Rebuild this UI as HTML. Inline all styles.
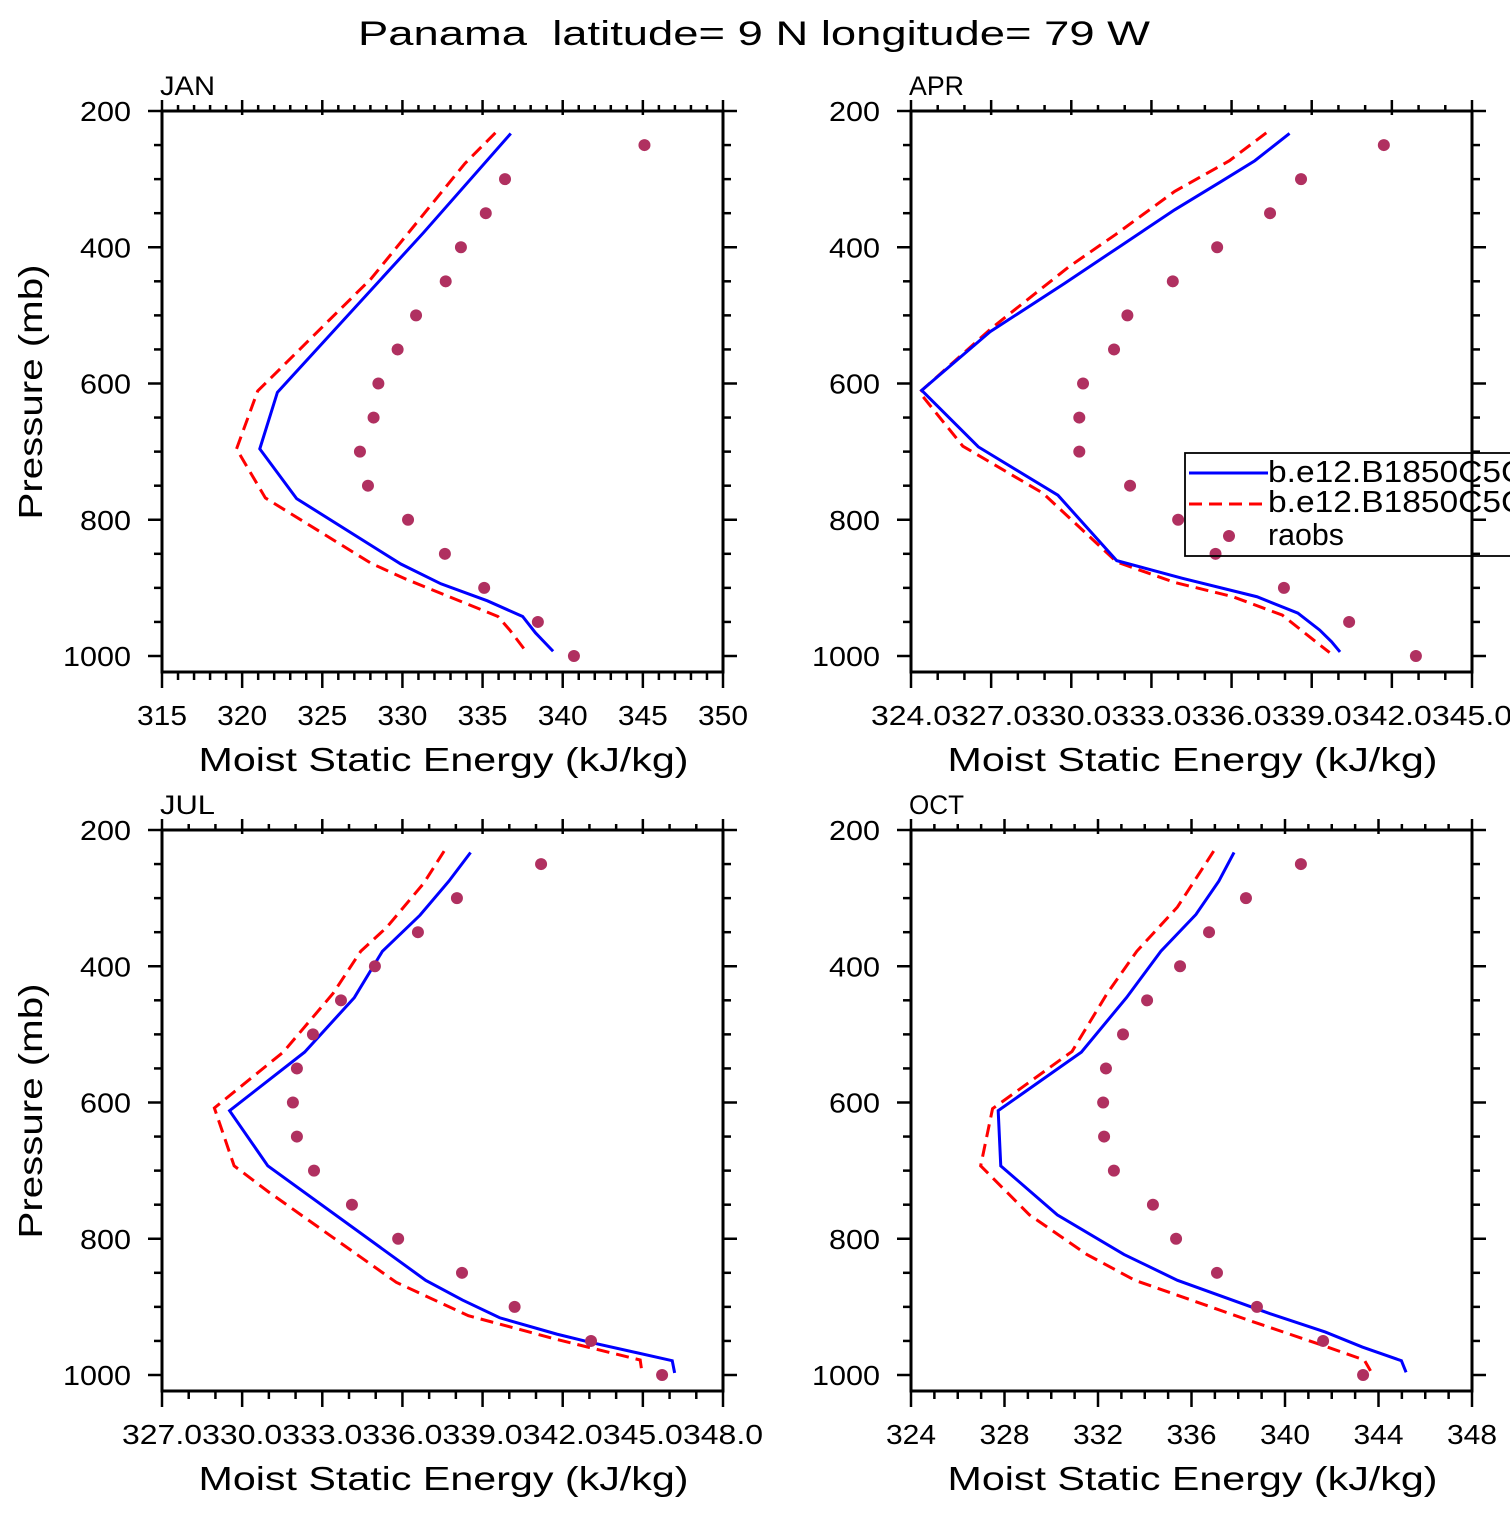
<!DOCTYPE html>
<html><head><meta charset="utf-8"><style>
html,body{margin:0;padding:0;background:#fff;}
svg text{font-family:"Liberation Sans",sans-serif;fill:#000;white-space:pre;}
</style></head><body>
<svg id="chart" xmlns="http://www.w3.org/2000/svg" width="1510" height="1510" viewBox="0 0 1510 1510">
<rect x="0" y="0" width="1510" height="1510" fill="#fff"/>
<text x="754" y="45" font-size="34" text-anchor="middle" textLength="792" lengthAdjust="spacingAndGlyphs" xml:space="preserve">Panama  latitude= 9 N longitude= 79 W</text>
</svg>
<script>
// ---- data ----
const obsP = [250,300,350,400,450,500,550,600,650,700,750,800,850,900,950,1000];
const janObs = [345.1,336.4,335.2,333.65,332.7,330.85,329.7,328.5,328.2,327.35,327.85,330.35,332.65,335.1,338.45,340.7];
const aprObs = [341.7,338.6,337.44,335.46,333.8,332.1,331.6,330.44,330.3,330.3,332.2,334.0,335.4,337.96,340.4,342.9];
const julObs = [341.19,338.04,336.58,334.97,333.7,332.65,332.05,331.9,332.05,332.69,334.11,335.84,338.23,340.2,343.06,345.72];
const octObs = [340.68,338.33,336.75,335.51,334.1,333.07,332.34,332.22,332.26,332.68,334.35,335.34,337.09,338.8,341.63,343.34];

const janBlueP = [233,379,613,696,769,865,894,919,942,966,993];
const janBlueV = [336.76,331.3,322.2,321.1,323.4,329.9,332.4,335.3,337.5,338.3,339.4];
const janRedP = [232,277,446,611,696,768,864,887,942,962,993];
const janRedV = [335.8,333.9,328.05,320.97,319.65,321.45,328.05,330.2,335.96,336.7,337.7];

const aprBlueP = [233,273,303,345,399,453,524,610,693,764,860,886,913,937,962,979,994];
const aprBlueV = [338.17,336.87,335.63,333.87,331.81,329.75,326.96,324.4,326.52,329.5,331.7,334.16,336.95,338.48,339.3,339.74,340.06];
const aprRedP = [232,273,318,381,429,518,613,692,761,862,892,913,940,979,995];
const aprRedV = [337.3,335.92,333.87,331.67,329.9,327.04,324.32,325.94,328.94,331.7,333.87,336.05,337.9,339.15,339.67];

const julBlueP = [233,275,325,378,446,526,612,693,861,890,916,940,952,979,997];
const julBlueV = [338.55,337.74,336.66,335.25,334.2,332.34,329.53,330.96,336.87,338.25,339.64,341.78,343.03,346.1,346.19];
const julRedP = [231,278,343,378,440,526,608,693,731,864,913,948,978,997];
const julRedV = [337.56,336.8,335.41,334.44,333.4,331.54,328.96,329.7,330.98,335.77,338.47,341.8,344.9,344.97];

const octBlueP = [233,275,324,378,446,526,612,693,765,823,861,910,937,959,979,996];
const octBlueV = [337.82,337.17,336.19,334.69,333.22,331.29,327.73,327.84,330.26,333.11,335.4,339.36,341.73,343.31,344.98,345.18];
const octRedP = [231,313,378,440,525,609,693,765,823,861,921,956,978,994];
const octRedV = [336.95,335.4,333.66,332.39,330.89,327.49,326.98,329.07,331.52,333.58,338.56,341.57,343.39,343.66];

const panelNames = ["JAN","APR","JUL","OCT"];
const xMins = [315,324,327,324];
const xMaxs = [350,345,348,348];
const xSteps = [5,3,3,4];
const xLabelDigits = [0,1,1,0];
const yTicks = [200,400,600,800,1000];

// ---- drawing ----
const NS = "http://www.w3.org/2000/svg";
const svg = document.getElementById("chart");
function mk(tag, attrs, parent){
  const e = document.createElementNS(NS, tag);
  for (const k in attrs) e.setAttribute(k, attrs[k]);
  (parent||svg).appendChild(e);
  return e;
}
const W = 561, H = 561, PS = 0.68125;
const origins = [[162,111],[911,111],[162,830],[911,830]];
const obsSets = [janObs,aprObs,julObs,octObs];
const blueSets = [[janBlueP,janBlueV],[aprBlueP,aprBlueV],[julBlueP,julBlueV],[octBlueP,octBlueV]];
const redSets = [[janRedP,janRedV],[aprRedP,aprRedV],[julRedP,julRedV],[octRedP,octRedV]];

for (let i=0;i<4;i++){
  const x0 = origins[i][0], y0 = origins[i][1];
  const xmin = xMins[i], xmax = xMaxs[i];
  const xs = v => x0 + (v - xmin) / (xmax - xmin) * W;
  const ys = p => y0 + (p - 200) * PS;
  const lname = panelNames[i].toLowerCase();
  const g = mk("g", {});
  
  

  const lab = mk("text", {x: x0-2, y: y0-16, "font-size": 27, textLength: 55, lengthAdjust: "spacingAndGlyphs"}, g);
  lab.textContent = panelNames[i];
  
  

  const red = mk("polyline", {points: redSets[i][0].map((p,k)=>xs(redSets[i][1][k])+","+ys(p)).join(" "), fill:"none", stroke:"#ff0000", "stroke-width":3, "stroke-dasharray":"13 7"}, g);
  
  
  const blue = mk("polyline", {points: blueSets[i][0].map((p,k)=>xs(blueSets[i][1][k])+","+ys(p)).join(" "), fill:"none", stroke:"#0000ff", "stroke-width":3}, g);
  
  
  obsP.forEach((p,k)=>{
    const c = mk("circle", {cx: xs(obsSets[i][k]), cy: ys(p), r: 6, fill:"#b03060"}, g);
    
    
  });

  const fr = mk("rect", {x:x0, y:y0, width:W, height:H, fill:"none", stroke:"#000", "stroke-width":3}, g);
  
  

  const tg = mk("g", {stroke:"#000", "stroke-width":2.5}, g);
  
  
  for (let v=xmin; v<=xmax+1e-6; v+=1){
    const major = Math.abs((v-xmin)%xSteps[i])<1e-6;
    const x = xs(v);
    mk("line", {x1:x, x2:x, y1:y0+H, y2:y0+H+(major?16:8)}, tg);
    mk("line", {x1:x, x2:x, y1:y0+(major?4:0), y2:y0-(major?11:6)}, tg);
    if (major){
      const t = mk("text", {x:x, y:y0+H+53, "font-size":28, "text-anchor":"middle", stroke:"none",
        textLength: xLabelDigits[i] ? 80 : 50, lengthAdjust:"spacingAndGlyphs"}, g);
      t.textContent = v.toFixed(xLabelDigits[i]);
      
      
    }
  }
  for (let p=200; p<=1000; p+=50){
    const major = p%200===0;
    const y = ys(p);
    mk("line", {x1:x0, x2:x0-(major?14:8), y1:y, y2:y}, tg);
    mk("line", {x1:x0+W, x2:x0+W+(major?14:8), y1:y, y2:y}, tg);
  }
  yTicks.forEach(p=>{
    const t = mk("text", {x:x0-31, y:ys(p)+10, "font-size":28, "text-anchor":"end",
      textLength: String(p).length*17, lengthAdjust:"spacingAndGlyphs"}, g);
    t.textContent = String(p);
    
    
  });
  const xt = mk("text", {x:x0+W/2+1, y:y0+H+99, "font-size":33, "text-anchor":"middle", textLength:490, lengthAdjust:"spacingAndGlyphs"}, g);
  xt.textContent = "Moist Static Energy (kJ/kg)";
  
  
  if (i===0 || i===2){
    const cy = y0 + 281;
    const yt = mk("text", {x:0, y:0, "font-size":33, "text-anchor":"middle", textLength:255, lengthAdjust:"spacingAndGlyphs",
      transform:"translate(42,"+cy+") rotate(-90)"}, g);
    yt.textContent = "Pressure (mb)";
    
    
  }
}

const lg = mk("g", {});


mk("rect", {x:1185, y:453, width:340, height:103, fill:"none", stroke:"#000", "stroke-width":1.8}, lg);
const l1 = mk("line", {x1:1189, x2:1268, y1:473, y2:473, stroke:"#0000ff", "stroke-width":3}, lg);


const l2 = mk("line", {x1:1189, x2:1268, y1:504, y2:504, stroke:"#ff0000", "stroke-width":3, "stroke-dasharray":"13 7"}, lg);


const l3 = mk("circle", {cx:1229, cy:536, r:6, fill:"#b03060"}, lg);


const lt = ["b.e12.B1850C5CN.ne30_g16","b.e12.B1850C5CN.ne30_g16","raobs"];
[482,512,545].forEach((y,k)=>{
  const t = mk("text", {x:1268, y:y, "font-size":31, textLength: k<2 ? 440 : 76, lengthAdjust:"spacingAndGlyphs"}, lg);
  t.textContent = lt[k];
  
  
});
</script>
</body></html>
